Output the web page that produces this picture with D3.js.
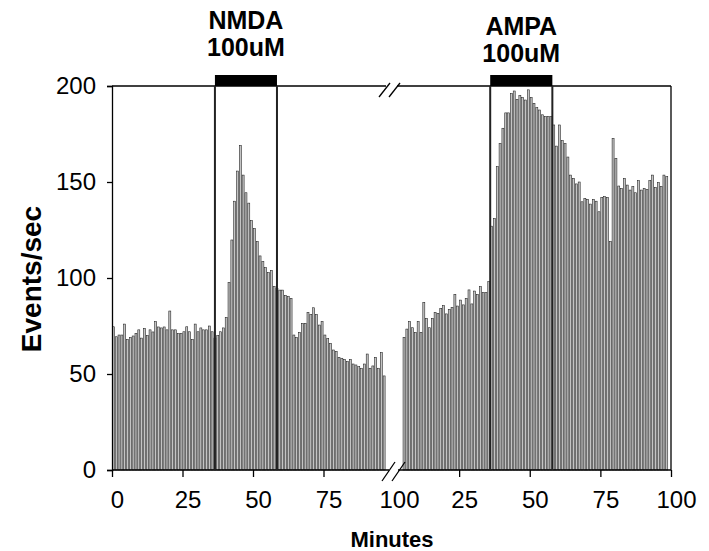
<!DOCTYPE html>
<html lang="en">

<head>
    <meta charset="UTF-8">
    <script src="https://d3js.org/d3.v7.min.js"></script>
    <title>Events/sec</title>
    <style>
        body { margin: 0; background: #fff; }
        text { font-family: 'Liberation Sans', Arial, sans-serif; fill: #000; }
    </style>
</head>

<body>
    <svg id="mainsvg" width="709" height="551"></svg>

    <script>
        // values, one bar per minute
        const leftFirstMinute = 1
        const leftValues = [74.6, 69.4, 70.3, 70.3, 76, 68, 69, 69.8, 71.2, 73,
            68.7, 73.8, 70, 73, 71.9, 77.3, 74.5, 74, 74.5, 73,
            82.8, 73, 73, 71, 71, 72, 74.6, 72, 68, 76,
            72, 74, 73, 73, 75, 72, 68.7, 70, 72, 74,
            79.5, 97.6, 119.8, 140, 155.7, 169, 153.6, 144.4, 139, 129.9,
            125.8, 119, 111.5, 108.5, 105.4, 102.8, 104, 95.5, 94.6, 93.7,
            93.7, 91, 90.5, 89.4, 70.3, 69, 71.7, 76.4, 76.4, 82.1,
            81, 84.5, 81, 75.5, 77.3, 70.3, 68.6, 66, 62.5, 61.8,
            58.7, 58.2, 57.6, 56.4, 57.6, 55.2, 54.7, 53.8, 53, 55.2,
            60.4, 53, 54.2, 58.7, 53, 61.1, 49]

        const rightFirstMinute = 6
        const rightValues = [69.1, 73.4, 77.3, 74.1, 71.7, 77.3, 71.7, 87.3, 79, 74.1,
            79, 82.1, 81.6, 84.2, 85.6, 81.3, 83.7, 84.7, 91.5, 85.4,
            88.5, 86, 89.4, 93.8, 86.5, 93.2, 91.5, 95.5, 92.4, 92.4,
            98.1, 127, 131, 158, 170, 178, 186, 186, 196, 197.4,
            193, 195, 194, 192.7, 198, 194, 191, 188.7, 187.5, 185,
            184, 184, 184, 179.7, 168.7, 179.7, 171.5, 170, 163, 153.6,
            151.9, 149, 150, 139.7, 141.5, 141, 138.5, 141, 140, 134.5,
            142, 142.4, 142, 118.9, 172.7, 162.3, 147.9, 146.7, 151.9, 148.4,
            145.8, 147.6, 144.4, 150.7, 145.8, 146.7, 146, 150.7, 153.6, 147.2,
            149.7, 147.6, 153.6, 152.8]

        const yTicks = [0, 50, 100, 150, 200]
        const leftTicks = [0, 25, 50, 75, 100]
        const rightTicks = [25, 50, 75, 100]

        // drug application windows (minutes within each panel)
        const drugNames = ['NMDA', 'AMPA']
        const drugDose = ['100uM', '100uM']
        const drugPanel = [0, 1]
        const drugStart = [36.5, 36]
        const drugEnd = [58.5, 58]

        const svg = d3.select('#mainsvg')
        const fontSize = 24

        const yScale = d3.scaleLinear().domain([0, 200]).range([470, 86])
        const xLeft = d3.scaleLinear().domain([0, 100]).range([112, 394])
        const xRight = d3.scaleLinear().domain([0, 100]).range([388.5, 671])
        const panels = [xLeft, xRight]

        const bw = 2

        const drawBars = function (values, first, x) {
            svg.append('g').selectAll('rect')
                .data(values)
                .join('rect')
                .attr('x', (d, i) => x(first + i - 0.5) - bw / 2)
                .attr('y', d => yScale(d))
                .attr('width', bw)
                .attr('height', d => yScale(0) - yScale(d))
                .attr('fill', '#c4c4c4')
                .attr('stroke', '#1a1a1a')
                .attr('stroke-width', 0.55)
        }
        drawBars(leftValues, leftFirstMinute, xLeft)
        drawBars(rightValues, rightFirstMinute, xRight)

        // frame: top and right edges, with the axis break
        const frame = svg.append('g').attr('stroke', '#000').attr('stroke-width', 1.3).attr('fill', 'none')
        frame.append('line').attr('x1', xLeft(0)).attr('x2', 386).attr('y1', yScale(200)).attr('y2', yScale(200))
        frame.append('line').attr('x1', 397).attr('x2', xRight(100)).attr('y1', yScale(200)).attr('y2', yScale(200))
        frame.append('line').attr('x1', xRight(100)).attr('x2', xRight(100)).attr('y1', yScale(200)).attr('y2', yScale(0))
        frame.append('line').attr('x1', xLeft(0)).attr('x2', 389).attr('y1', yScale(0)).attr('y2', yScale(0))
        frame.append('line').attr('x1', 398).attr('x2', xRight(100)).attr('y1', yScale(0)).attr('y2', yScale(0))

        // break marks
        const breaks = [[379, 97, 390, 83], [389, 97, 400, 83], [382, 481, 395, 462], [392, 481, 405, 462]]
        frame.selectAll('.brk')
            .data(breaks)
            .join('line')
            .attr('x1', d => d[0]).attr('y1', d => d[1])
            .attr('x2', d => d[2]).attr('y2', d => d[3])

        // y axis
        const yAxis = svg.append('g')
            .attr('transform', `translate(${xLeft(0)}, 0)`)
            .call(d3.axisLeft(yScale).tickValues(yTicks).tickSize(5).tickPadding(11))
        yAxis.selectAll('text').attr('font-size', fontSize)
        yAxis.selectAll('path, line').attr('stroke', '#000').attr('stroke-width', 1.3)

        // x axes
        const xAxisL = svg.append('g')
            .attr('transform', `translate(0, ${yScale(0)})`)
            .call(d3.axisBottom(xLeft).tickValues(leftTicks).tickSize(7).tickPadding(14))
        xAxisL.select('.domain').remove()
        xAxisL.selectAll('.tick').filter(d => d === 100).select('line').remove()

        const xAxisR = svg.append('g')
            .attr('transform', `translate(0, ${yScale(0)})`)
            .call(d3.axisBottom(xRight).tickValues(rightTicks).tickSize(7).tickPadding(14))
        xAxisR.select('.domain').remove()

        svg.selectAll('.tick line').attr('stroke', '#000').attr('stroke-width', 1.3)
        ;[xAxisL, xAxisR].forEach(a => a.selectAll('text').attr('font-size', fontSize).attr('dx', 5))

        // drug windows
        drugNames.forEach((name, k) => {
            const x = panels[drugPanel[k]]
            const x0 = x(drugStart[k]), x1 = x(drugEnd[k])
            svg.append('g').selectAll('line')
                .data([x0, x1])
                .join('line')
                .attr('x1', d => d).attr('x2', d => d)
                .attr('y1', yScale(200)).attr('y2', yScale(0))
                .attr('stroke', '#222').attr('stroke-width', 2)
            svg.append('rect')
                .attr('x', x0).attr('y', 75)
                .attr('width', x1 - x0).attr('height', yScale(200) - 75)
                .attr('fill', '#000')
            const top = k === 0 ? 29 : 35
            svg.append('text').attr('x', (x0 + x1) / 2).attr('y', top)
                .attr('text-anchor', 'middle').attr('font-size', 25).attr('font-weight', 'bold')
                .text(name)
            svg.append('text').attr('x', (x0 + x1) / 2).attr('y', top + 27)
                .attr('text-anchor', 'middle').attr('font-size', 25).attr('font-weight', 'bold')
                .text(drugDose[k])
        })

        // axis titles
        svg.append('text')
            .attr('transform', 'translate(41, 279) rotate(-90)')
            .attr('text-anchor', 'middle').attr('font-size', 28).attr('font-weight', 'bold')
            .text('Events/sec')
        svg.append('text')
            .attr('x', 392).attr('y', 547)
            .attr('text-anchor', 'middle').attr('font-size', 22).attr('font-weight', 'bold')
            .text('Minutes')
    </script>
</body>

</html>
